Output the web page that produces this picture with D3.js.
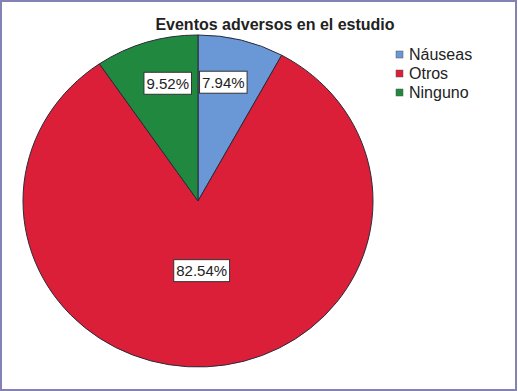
<!DOCTYPE html>
<html>
<head>
<meta charset="utf-8">
<script src="https://cdn.jsdelivr.net/npm/d3@7"></script>
<style>
  html, body { margin: 0; padding: 0; background: #fff; }
  svg { display: block; }
</style>
</head>
<body>
<script>
const title = "Eventos adversos en el estudio";
const categories = ["Náuseas", "Otros", "Ninguno"];
const counts = [5, 52, 6];
const percentLabels = ["7.94%", "82.54%", "9.52%"];
const colors = ["#6a98d6", "#dc1f38", "#21893f"];

const W = 518, H = 391;
const svg = d3.select("body").append("svg").attr("width", W).attr("height", H);

svg.append("rect").attr("x", 1).attr("y", 1).attr("width", W - 3).attr("height", H - 2)
  .attr("fill", "#fff").attr("stroke", "#8481b4").attr("stroke-width", 2);

svg.append("text").attr("x", 275).attr("y", 30).attr("text-anchor", "middle")
  .attr("font-family", "Liberation Sans, Arial, sans-serif").attr("font-weight", "bold")
  .attr("font-size", 16).attr("fill", "#222").text(title);

const cx = 198, cy = 201, rx = 175, ry = 166;
const pie = d3.pie().sort(null).value(d => d)(counts);
const R = 100;
const arc = d3.arc().innerRadius(0).outerRadius(R);

const g = svg.append("g").attr("transform", `translate(${cx},${cy})`);
const pg = g.append("g").attr("transform", `scale(${rx / R},${ry / R})`);
pg.selectAll("path").data(pie).join("path")
  .attr("d", arc)
  .attr("fill", (d, i) => colors[i])
  .attr("stroke", "#2a2a3a").attr("stroke-width", 1)
  .attr("vector-effect", "non-scaling-stroke");

const labelFont = "Liberation Sans, Arial, sans-serif";
pie.forEach((d, i) => {
  const share = (d.endAngle - d.startAngle) / (2 * Math.PI);
  const big = share > 0.5;
  const frac = big ? 0.42 : 0.73;
  let a = (d.startAngle + d.endAngle) / 2;
  a = Math.atan2(Math.sin(a), Math.cos(a));
  if (!big) a *= 0.8;
  const x = Math.sin(a) * rx * frac;
  const y = -Math.cos(a) * ry * frac;
  const lg = g.append("g").attr("transform", `translate(${x},${y})`);
  const t = lg.append("text").attr("text-anchor", "middle").attr("dy", "0.36em")
    .attr("font-family", labelFont).attr("font-size", 15).attr("fill", "#222")
    .text(percentLabels[i]);
  const bb = t.node().getBBox();
  lg.insert("rect", "text")
    .attr("x", bb.x - 2.5).attr("y", -11).attr("width", bb.width + 5).attr("height", 22)
    .attr("fill", "#fff").attr("stroke", "#333").attr("stroke-width", 1);
});

const leg = svg.append("g").attr("transform", "translate(396,51)");
categories.forEach((c, i) => {
  const row = leg.append("g").attr("transform", `translate(0,${i * 19})`);
  row.append("rect").attr("width", 7).attr("height", 7)
    .attr("fill", colors[i]).attr("stroke", "#555").attr("stroke-width", 0.5);
  row.append("text").attr("x", 13).attr("y", 8.5)
    .attr("font-family", labelFont).attr("font-size", 16).attr("fill", "#222").text(c);
});
</script>
</body>
</html>
